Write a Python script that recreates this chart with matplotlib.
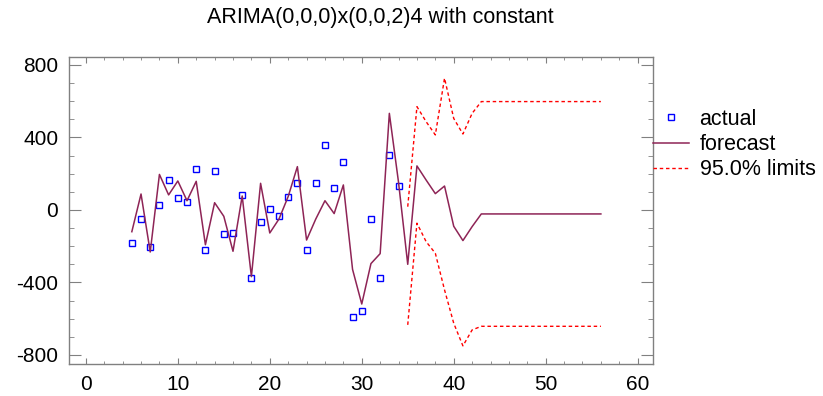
import matplotlib.pyplot as plt
import numpy as np
from matplotlib.ticker import MultipleLocator

plt.rcParams['font.family'] = ['Liberation Sans', 'DejaVu Sans']
plt.rcParams['axes.unicode_minus'] = False

# observed series (periods 5..34)
t_actual = list(range(5, 35))
actual = [-184, -50, -206, 28, 166, 64, 42, 224, -219, 217,
          -134, -129, 85, -375, -64, 7, -35, 72, 151, -219,
          151, 359, 120, 267, -592, -557, -50, -375, 302, 132]

# fitted values and forecasts (periods 5..56)
t_fc = list(range(5, 57))
forecast = [-120, 88, -232, 196, 83, 160, 51, 158, -192, 40,
            -35, -228, 77, -368, 147, -127, -50, 74, 239, -166,
            -50, 51, -20, 138, -328, -519, -296, -241, 533, 152,
            -300, 243, 165, 90, 132, -90, -169, -92] + [-22] * 14

# 95% limits (periods 35..56)
t_lim = list(range(35, 57))
upper = [18, 570, 487, 414, 727, 505, 419, 533] + [598] * 14
lower = [-634, -73, -175, -239, -441, -625, -750, -662] + [-642] * 14

fig = plt.figure(figsize=(8.23, 3.96), dpi=100)
ax = fig.add_axes([0.0842, 0.0808, 0.7096, 0.7762])

ax.plot(t_actual, actual, 's', color='blue', mfc='none', mec='blue',
        ms=5, mew=1, label='actual')
ax.plot(t_fc, forecast, '-', color='#8e2456', lw=1.1, label='forecast')
ax.plot(t_lim, upper, color='red', lw=1, ls=(0, (2.5, 2)), label='95.0% limits')
ax.plot(t_lim, lower, color='red', lw=1, ls=(0, (2.5, 2)))

ax.set_xlim(-1.8, 61.7)
ax.set_ylim(-850, 846)
ax.xaxis.set_major_locator(MultipleLocator(10))
ax.xaxis.set_minor_locator(MultipleLocator(2))
ax.yaxis.set_major_locator(MultipleLocator(400))
ax.yaxis.set_minor_locator(MultipleLocator(100))

for s in ax.spines.values():
    s.set_color('#808080')
    s.set_linewidth(1)
ax.tick_params(which='both', direction='in', top=True, right=True,
               color='#808080', labelsize=15)
ax.tick_params(axis='x', which='major', length=4, pad=8)
ax.tick_params(axis='x', which='minor', length=2.5)
ax.tick_params(axis='y', which='major', length=8.5, pad=8)
ax.tick_params(axis='y', which='minor', length=3.8)

fig.text(380 / 823, 1 - 18 / 396, 'ARIMA(0,0,0)x(0,0,2)4 with constant',
         ha='center', va='center', fontsize=15.5)

ax.legend(loc='upper left', bbox_to_anchor=(1.0, 0.83), frameon=False,
          borderaxespad=0, borderpad=0, handlelength=1.65,
          handletextpad=0.5, labelspacing=0.2, fontsize=15.5)

fig.savefig('out.png', dpi=100)
